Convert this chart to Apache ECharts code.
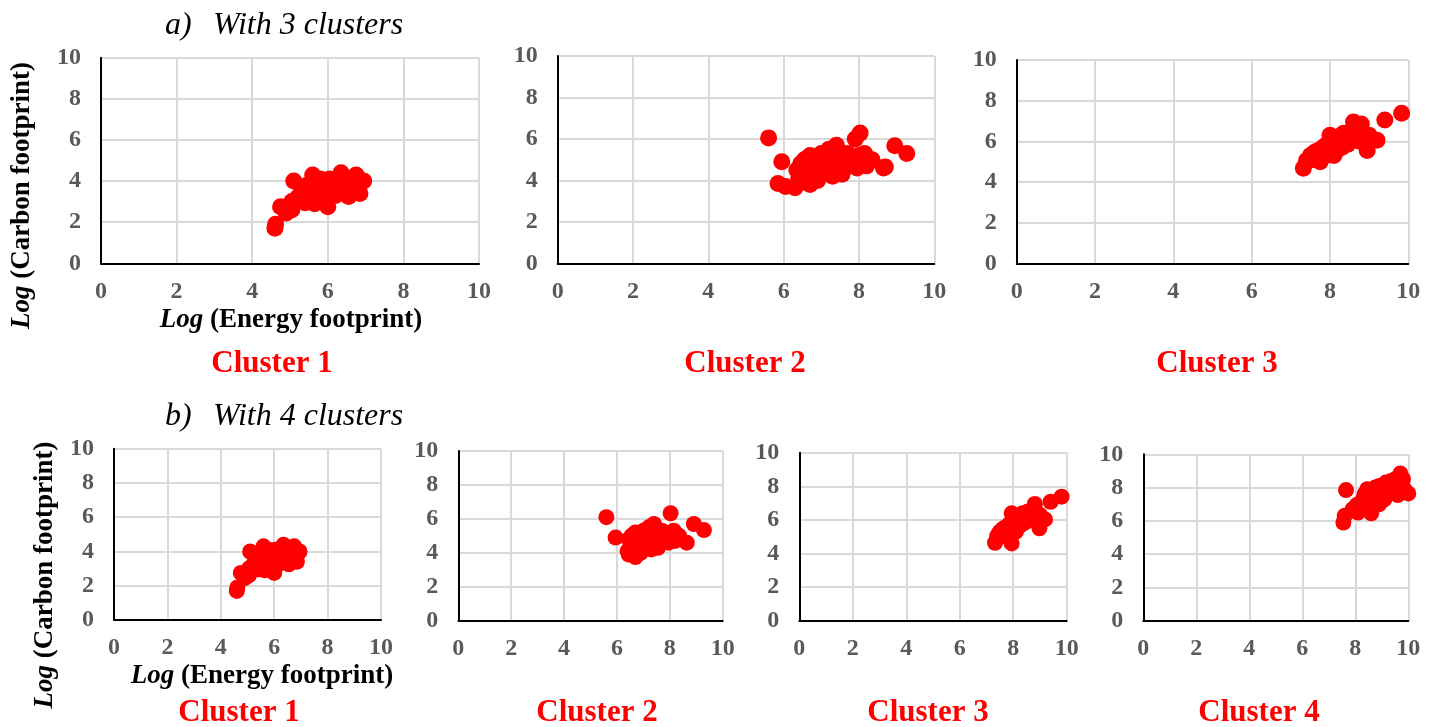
<!DOCTYPE html>
<html>
<head>
<meta charset="utf-8">
<script src="https://cdn.jsdelivr.net/npm/echarts@6/dist/echarts.min.js"></script>
<style>
html,body{margin:0;padding:0;background:#fff;}
#chart{width:1437px;height:727px;}
</style>
</head>
<body>
<div id="chart"></div>
<script>
// ---------- DATA ----------
const axisTicks = [0, 2, 4, 6, 8, 10];
const panelTitles = ["Cluster 1", "Cluster 2", "Cluster 3", "Cluster 1", "Cluster 2", "Cluster 3", "Cluster 4"];
const rowTitles = ["With 3 clusters", "With 4 clusters"];
const rowLetters = ["a)", "b)"];
const xAxisTitle = "(Energy footprint)";
const yAxisTitle = "(Carbon footprint)";

// a) 3 clusters — cluster 1 (also b) cluster 1)
const cluster1 = [
  [4.6,1.7],[4.62,1.9],[4.75,2.75],[4.9,2.45],[5.05,2.6],[5.1,4.0],[5.05,3.0],[5.2,3.2],
  [5.3,3.5],[5.35,3.3],[5.4,2.95],[5.5,3.6],[5.55,3.1],[5.6,4.3],[5.6,3.9],[5.65,2.9],
  [5.7,3.4],[5.75,3.75],[5.8,4.1],[5.85,3.3],[5.9,3.6],[5.95,3.9],[6.0,2.75],[6.0,3.3],
  [6.05,4.1],[6.1,3.6],[6.15,3.85],[6.2,3.3],[6.25,4.0],[6.3,3.6],[6.35,4.4],[6.4,3.8],
  [6.45,4.2],[6.5,3.5],[6.55,3.25],[6.6,4.0],[6.65,3.7],[6.75,4.3],[6.8,3.9],[6.85,3.4],
  [6.95,4.0],[5.45,3.8],[5.8,3.0],[6.2,3.55]
];
// a) 3 clusters — cluster 2
const cluster2a = [
  [5.6,6.05],[5.95,4.9],[5.85,3.85],[6.05,3.7],[6.3,3.65],[6.35,4.5],[6.4,4.1],[6.45,4.8],
  [6.5,4.3],[6.55,5.0],[6.6,3.9],[6.6,4.6],[6.7,5.2],[6.7,3.8],[6.75,4.4],[6.8,4.9],
  [6.85,4.1],[6.9,5.1],[6.95,4.6],[7.0,4.3],[7.0,5.3],[7.05,4.8],[7.1,5.0],[7.15,4.5],
  [7.2,5.5],[7.25,4.7],[7.3,5.2],[7.3,4.2],[7.35,4.9],[7.4,5.7],[7.45,5.4],[7.5,4.6],
  [7.55,4.3],[7.6,5.1],[7.65,4.8],[7.7,5.3],[7.8,5.0],[7.85,4.7],[7.9,6.0],[7.95,4.6],
  [8.0,5.2],[8.03,6.28],[8.05,4.8],[8.15,5.3],[8.2,4.7],[8.35,5.0],[8.65,4.6],[8.7,4.65],
  [8.95,5.67],[9.27,5.3],[6.5,4.7],[6.9,4.0],[7.2,4.4],[6.65,5.1]
];
// a) 3 clusters — cluster 3
const cluster3a = [
  [7.32,4.67],[7.4,5.05],[7.5,5.3],[7.55,5.1],[7.6,5.45],[7.7,5.2],[7.75,5.0],[7.75,5.6],
  [7.8,5.4],[7.85,5.75],[7.9,5.3],[7.95,5.9],[8.0,6.3],[8.0,5.5],[8.05,5.8],[8.1,6.1],
  [8.15,5.5],[8.2,5.9],[8.25,6.25],[8.3,5.7],[8.35,6.4],[8.4,6.0],[8.45,5.85],[8.5,6.2],
  [8.55,6.5],[8.6,6.95],[8.65,6.2],[8.7,6.6],[8.75,6.0],[8.8,6.85],[8.85,6.4],[8.9,6.2],
  [8.95,5.55],[9.0,6.3],[9.2,6.05],[9.4,7.05],[9.83,7.38],[8.1,5.3],[7.65,5.5]
];
// b) 4 clusters — cluster 2
const cluster2b = [
  [5.6,6.1],[5.95,4.9],[6.4,4.1],[6.45,3.9],[6.45,4.8],[6.5,4.3],[6.55,5.0],[6.6,4.6],
  [6.7,5.2],[6.7,3.75],[6.75,4.4],[6.8,4.9],[6.85,4.1],[6.9,5.1],[6.95,4.6],[7.0,4.3],
  [7.0,5.3],[7.05,4.8],[7.1,5.0],[7.15,4.5],[7.2,5.5],[7.25,4.7],[7.3,5.2],[7.3,4.2],
  [7.35,4.9],[7.4,5.7],[7.45,5.4],[7.5,4.6],[7.55,4.3],[7.6,5.1],[7.65,4.8],[7.7,5.3],
  [7.8,5.0],[7.85,4.7],[7.95,4.6],[8.0,5.2],[8.03,6.33],[8.05,4.8],[8.15,5.3],[8.2,4.7],
  [8.35,5.0],[8.64,4.6],[8.91,5.7],[9.29,5.34],[6.5,4.7],[6.9,4.0],[7.2,4.4],[6.65,5.1]
];
// b) 4 clusters — cluster 3
const cluster3b = [
  [7.32,4.64],[7.4,5.05],[7.5,5.3],[7.55,5.1],[7.6,5.45],[7.7,5.2],[7.75,5.0],[7.75,5.6],
  [7.8,5.4],[7.85,5.75],[7.9,5.3],[7.94,4.6],[7.95,5.9],[7.94,6.39],[8.0,5.5],[8.05,5.8],
  [8.1,6.1],[8.15,5.5],[8.2,5.9],[8.25,6.25],[8.3,5.7],[8.35,6.4],[8.4,6.0],[8.45,5.85],
  [8.5,6.2],[8.55,6.5],[8.65,6.2],[8.7,6.6],[8.75,6.0],[8.81,6.95],[8.85,6.4],[8.9,6.2],
  [8.98,5.5],[9.0,6.3],[9.19,6.03],[9.4,7.08],[9.81,7.38],[8.1,5.3],[7.65,5.5]
];
// b) 4 clusters — cluster 4
const cluster4b = [
  [7.55,5.9],[7.6,6.3],[7.65,7.85],[7.9,6.7],[8.05,6.95],[8.1,6.5],[8.2,7.1],[8.3,7.3],
  [8.35,7.6],[8.4,6.8],[8.45,7.9],[8.5,7.2],[8.55,7.5],[8.6,6.45],[8.65,7.7],[8.7,7.1],
  [8.75,8.0],[8.8,7.4],[8.85,7.8],[8.9,8.1],[9.0,7.6],[9.05,8.0],[9.1,7.3],[9.15,8.3],
  [9.2,7.8],[9.3,8.1],[9.35,8.4],[9.4,7.7],[9.45,8.2],[9.5,8.5],[9.55,7.9],[9.6,7.55],
  [9.65,8.6],[9.7,8.85],[9.75,8.3],[9.8,8.5],[9.85,7.9],[10.0,7.65],[8.25,6.9],[8.9,7.0]
];
const panelData = [cluster1, cluster2a, cluster3a, cluster1, cluster2b, cluster3b, cluster4b];

// ---------- LAYOUT ----------
const SERIF = "'Liberation Serif','Times New Roman',serif";
const grids = [
  {left:101,   top:57.7,  width:378,   height:205.6},
  {left:557.7, top:56,    width:376.6, height:207.3},
  {left:1016.7,top:60,    width:391.6, height:203.3},
  {left:114,   top:448.7, width:267,   height:171.3},
  {left:458.3, top:451,   width:264.4, height:169.7},
  {left:799.3, top:452.7, width:267.4, height:168},
  {left:1143.3,top:454.3, width:265,   height:166.4}
];
const clusterLabelPos = [[272,364],[745,364],[1217,364],[239,713],[597,713],[928,713],[1259,713]];

function labelStyle(margin){
  return {fontFamily:SERIF, fontWeight:'bold', fontSize:24, color:'#595959', showMinLabel:true, showMaxLabel:true, margin:margin};
}
function axisCommon(i, margin){
  return {
    type:'value', gridIndex:i, min:axisTicks[0], max:axisTicks[axisTicks.length-1],
    interval:axisTicks[1]-axisTicks[0],
    axisLine:{show:true, onZero:false, lineStyle:{color:'#000', width:2}},
    axisTick:{show:false},
    splitLine:{show:true, lineStyle:{color:'#d9d9d9', width:2}},
    axisLabel:labelStyle(margin)
  };
}

const xAxes = grids.map((g,i)=>axisCommon(i, 16));
const yAxes = grids.map((g,i)=>axisCommon(i, 20));

const series = panelData.map((d,i)=>({
  type:'scatter', xAxisIndex:i, yAxisIndex:i, data:d,
  symbol:'circle', symbolSize: i<3 ? 17 : 16,
  itemStyle:{color:'#ff0000', opacity:1},
  silent:true
}));

const graphics = [];
// row titles
[[165,26],[165,417]].forEach((p,r)=>{
  graphics.push({type:'text', x:p[0], y:p[1], style:{text:rowLetters[r], font:'italic 32px '+SERIF, fill:'#000', textAlign:'left', textVerticalAlign:'middle'}});
  graphics.push({type:'text', x:213, y:p[1], style:{text:rowTitles[r], font:'italic 32px '+SERIF, fill:'#000', textAlign:'left', textVerticalAlign:'middle'}});
});
// cluster labels
clusterLabelPos.forEach((p,i)=>{
  graphics.push({type:'text', x:p[0], y:p[1], style:{text:panelTitles[i], font:'bold 31px '+SERIF, fill:'#ff0000', textAlign:'center', textVerticalAlign:'middle'}});
});
// axis titles
function richTitle(rest){
  return {
    text:'{i|Log} {b|'+rest+'}',
    rich:{
      i:{fontFamily:SERIF, fontSize:27, fontWeight:'bold', fontStyle:'italic', fill:'#000'},
      b:{fontFamily:SERIF, fontSize:27, fontWeight:'bold', fill:'#000'}
    },
    font:'bold 27px '+SERIF, fill:'#000', textAlign:'center', textVerticalAlign:'middle'
  };
}
graphics.push({type:'text', x:291, y:320, style:richTitle(xAxisTitle)});
graphics.push({type:'text', x:262, y:676, style:richTitle(xAxisTitle)});
graphics.push({type:'text', x:22.5, y:195.5, rotation:Math.PI/2, style:richTitle(yAxisTitle)});
graphics.push({type:'text', x:45, y:575, rotation:Math.PI/2, style:richTitle(yAxisTitle)});

const chart = echarts.init(document.getElementById('chart'), null, {renderer:'canvas'});
chart.setOption({
  backgroundColor:'#fff',
  animation:false,
  grid: grids.map(g=>Object.assign({containLabel:false}, g)),
  xAxis: xAxes,
  yAxis: yAxes,
  series: series,
  graphic: graphics
});
</script>
</body>
</html>
